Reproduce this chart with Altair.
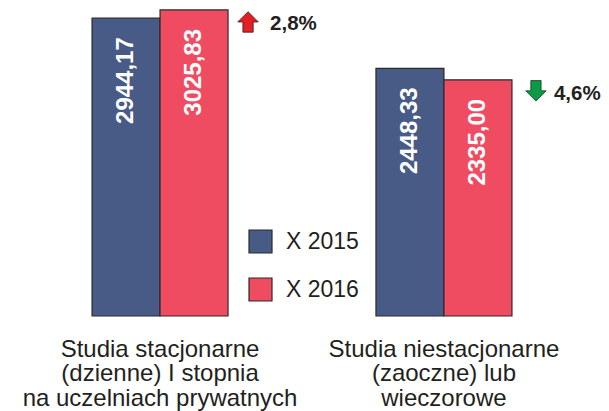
import altair as alt
import pandas as pd

groups = ["Studia stacjonarne|(dzienne) I stopnia|na uczelniach prywatnych",
          "Studia niestacjonarne|(zaoczne) lub|wieczorowe"]
years = ["X 2015", "X 2016"]
values_2015 = [2944.17, 2448.33]
values_2016 = [3025.83, 2335.00]
value_labels_2015 = ["2944,17", "2448,33"]
value_labels_2016 = ["3025,83", "2335,00"]
change_labels = ["2,8%", "4,6%"]
change_dirs = ["up", "down"]

colors = ["#485a86", "#ef4c62"]
FONT = "Liberation Sans"

rows = []
for i, g in enumerate(groups):
    rows.append({"group": g, "year": years[0], "value": values_2015[i], "label": value_labels_2015[i]})
    rows.append({"group": g, "year": years[1], "value": values_2016[i], "label": value_labels_2016[i]})
bars_df = pd.DataFrame(rows)

ann_df = pd.DataFrame({"group": groups, "v2016": values_2016, "pct": change_labels, "dir": change_dirs})

x_enc = alt.X("group:N", sort=groups, title=None,
              scale=alt.Scale(paddingInner=0.521, paddingOuter=0.296),
              axis=alt.Axis(domain=False, ticks=False, labelAngle=0,
                            labelExpr="split(datum.label, '|')",
                            labelFont=FONT, labelFontSize=24, labelLineHeight=24.5,
                            labelColor="#231f20", labelPadding=21, labelLimit=400,
                            labelBaseline="top"))
y_scale = alt.Scale(domain=[0, 3045], nice=False, zero=True)
xoff = alt.XOffset("year:N", sort=years, scale=alt.Scale(paddingInner=0, paddingOuter=0))

bars = alt.Chart(bars_df).mark_bar(stroke="#2b2b2b", strokeWidth=1.2).encode(
    x=x_enc,
    xOffset=xoff,
    y=alt.Y("value:Q", scale=y_scale, axis=None),
    color=alt.Color("year:N", sort=years,
                    scale=alt.Scale(domain=years, range=colors),
                    legend=alt.Legend(title=None, orient="none", legendX=240, legendY=221,
                                      symbolType="square", symbolSize=529,
                                      symbolStrokeColor="#2b2b2b", symbolStrokeWidth=1.2,
                                      symbolOpacity=1,
                                      labelFont=FONT, labelFontSize=23, labelColor="#231f20",
                                      labelOffset=13, rowPadding=19)),
)

labels = alt.Chart(bars_df).mark_text(angle=270, align="right", baseline="middle",
                                      font=FONT, fontSize=24, fontWeight="bold",
                                      color="white", yOffset=19).encode(
    x=alt.X("group:N", sort=groups),
    xOffset=xoff,
    y=alt.Y("value:Q", scale=y_scale),
    text="label:N",
)

up_path = "M0,-1 L1,0 L0.5,0 L0.5,1 L-0.5,1 L-0.5,0 L-1,0 Z"
down_path = "M0,1 L1,0 L0.5,0 L0.5,-1 L-0.5,-1 L-0.5,0 L-1,0 Z"

arrow_up = alt.Chart(ann_df).transform_filter("datum.dir == 'up'").mark_point(
    shape=up_path, filled=True, fill="#e31e24", stroke="#3a1a1a", strokeWidth=0.8,
    size=420, opacity=1, xOffset=88, yOffset=12).encode(
    x=alt.X("group:N", sort=groups),
    y=alt.Y("v2016:Q", scale=y_scale),
)
arrow_down = alt.Chart(ann_df).transform_filter("datum.dir == 'down'").mark_point(
    shape=down_path, filled=True, fill="#0a9a48", stroke="#1a3a1a", strokeWidth=0.8,
    size=420, opacity=1, xOffset=92, yOffset=11).encode(
    x=alt.X("group:N", sort=groups),
    y=alt.Y("v2016:Q", scale=y_scale),
)
pct = alt.Chart(ann_df).mark_text(align="left", baseline="middle", font=FONT,
                                  fontSize=20.5, fontWeight="bold", color="#231f20",
                                  xOffset=110, yOffset=14).encode(
    x=alt.X("group:N", sort=groups),
    y=alt.Y("v2016:Q", scale=y_scale),
    text="pct:N",
)

chart = alt.layer(bars, labels, arrow_up, arrow_down, pct).properties(
    width=588, height=308,
    background="white",
    autosize=alt.AutoSizeParams(type="none"),
    padding={"left": 0, "top": 0, "right": 5, "bottom": 110},
).configure_view(stroke=None)

chart.save("out.html", embed_options={"renderer": "svg", "actions": False})
